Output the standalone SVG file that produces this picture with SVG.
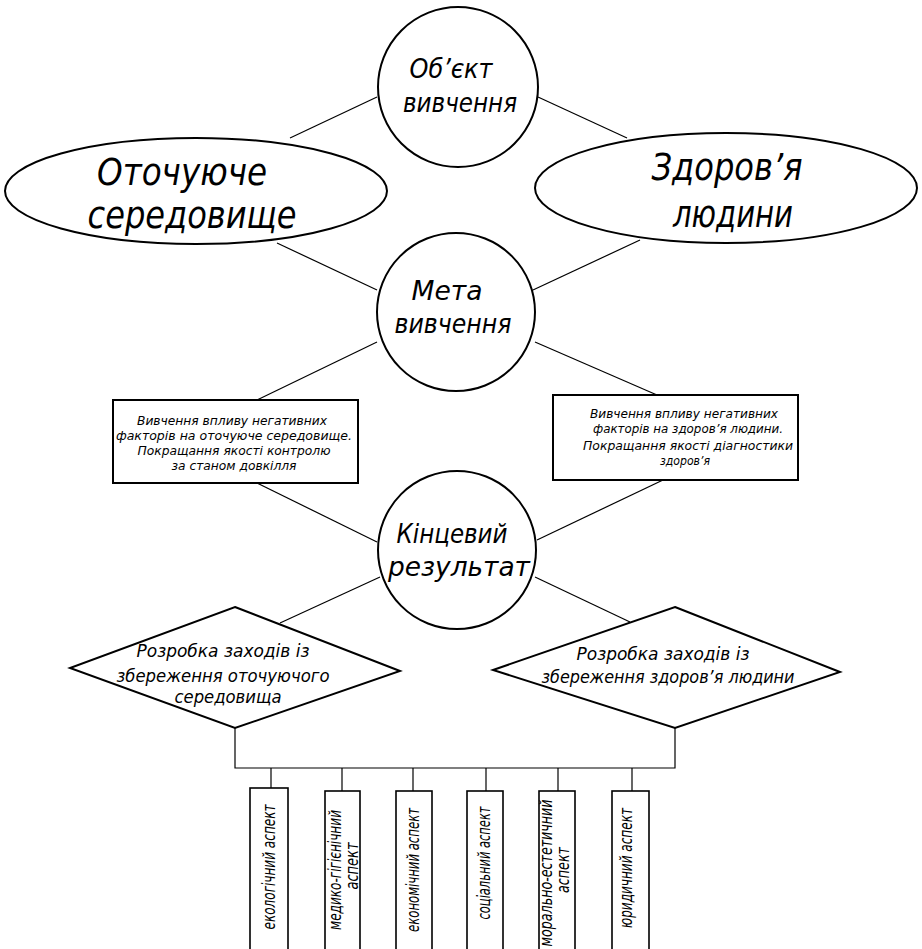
<svg xmlns="http://www.w3.org/2000/svg" width="922" height="949" viewBox="0 0 922 949">
<style>
.sh{fill:#fff;stroke:#000;stroke-width:2}
.bx{fill:#fff;stroke:#000;stroke-width:1.6}
.cn{fill:none;stroke:#000;stroke-width:1.2}
text{font-family:"Liberation Sans Narrow","DejaVu Sans Condensed","Liberation Sans",sans-serif;font-style:italic;fill:#000;text-anchor:middle}
.t1{font-size:27px}
.t2{font-size:38px}
.t3{font-size:13px}
.t4{font-size:27px}
.t5{font-size:18px}
.t6{font-size:17px}
</style>
<rect width="922" height="949" fill="#fff"/>
<g id="connectors">
<line class="cn" x1="377" y1="97" x2="290" y2="138"/>
<line class="cn" x1="538" y1="97" x2="627" y2="138"/>
<line class="cn" x1="277" y1="243" x2="377" y2="290"/>
<line class="cn" x1="533" y1="290" x2="640" y2="240"/>
<line class="cn" x1="377" y1="342" x2="257" y2="400"/>
<line class="cn" x1="535" y1="342" x2="657" y2="395"/>
<line class="cn" x1="257" y1="483" x2="377" y2="542"/>
<line class="cn" x1="663" y1="480" x2="537" y2="540"/>
<line class="cn" x1="380" y1="577" x2="280" y2="623"/>
<line class="cn" x1="535" y1="577" x2="630" y2="622"/>
<polyline class="cn" points="235,728 235,768 675,768 675,728"/>
<line class="cn" x1="271" y1="768" x2="271" y2="788"/>
<line class="cn" x1="342" y1="768" x2="342" y2="791"/>
<line class="cn" x1="413" y1="768" x2="413" y2="791"/>
<line class="cn" x1="486" y1="768" x2="486" y2="791"/>
<line class="cn" x1="558" y1="768" x2="558" y2="791"/>
<line class="cn" x1="632" y1="768" x2="632" y2="791"/>
</g>
<g id="n-object">
<circle class="sh" cx="458" cy="87" r="80"/>
<text class="t1" x="451" y="78" textLength="83" lengthAdjust="spacingAndGlyphs">Об’єкт</text>
<text class="t1" x="460" y="112" textLength="114" lengthAdjust="spacingAndGlyphs">вивчення</text>
</g>
<g id="n-environment">
<ellipse class="sh" cx="196" cy="191" rx="191" ry="53"/>
<text class="t2" x="182" y="185" textLength="170" lengthAdjust="spacingAndGlyphs">Оточуюче</text>
<text class="t2" x="192" y="228" textLength="209" lengthAdjust="spacingAndGlyphs">середовище</text>
</g>
<g id="n-health">
<ellipse class="sh" cx="726" cy="188" rx="191" ry="55"/>
<text class="t2" x="727" y="180" textLength="151" lengthAdjust="spacingAndGlyphs">Здоров’я</text>
<text class="t2" x="733" y="227" textLength="120" lengthAdjust="spacingAndGlyphs">людини</text>
</g>
<g id="n-goal">
<circle class="sh" cx="456" cy="312" r="79"/>
<text class="t1" x="447" y="300" font-size="29" textLength="71" lengthAdjust="spacingAndGlyphs">Мета</text>
<text class="t1" x="453" y="333" font-size="29" textLength="117" lengthAdjust="spacingAndGlyphs">вивчення</text>
</g>
<g id="n-rect-left">
<rect class="sh" x="113" y="400" width="245" height="83"/>
<text class="t3" x="232" y="425" textLength="190" lengthAdjust="spacingAndGlyphs">Вивчення впливу негативних</text>
<text class="t3" x="234" y="440" textLength="236" lengthAdjust="spacingAndGlyphs">факторів на оточуюче середовище.</text>
<text class="t3" x="234" y="455" textLength="193" lengthAdjust="spacingAndGlyphs">Покращання якості контролю</text>
<text class="t3" x="234" y="470" textLength="125" lengthAdjust="spacingAndGlyphs">за станом довкілля</text>
</g>
<g id="n-rect-right">
<rect class="sh" x="553" y="395" width="245" height="85"/>
<text class="t3" x="684" y="418" textLength="188" lengthAdjust="spacingAndGlyphs">Вивчення впливу негативних</text>
<text class="t3" x="688" y="433" textLength="190" lengthAdjust="spacingAndGlyphs">факторів на здоров’я людини.</text>
<text class="t3" x="688" y="450" textLength="210" lengthAdjust="spacingAndGlyphs">Покращання якості діагностики</text>
<text class="t3" x="685" y="465" textLength="50" lengthAdjust="spacingAndGlyphs">здоров’я</text>
</g>
<g id="n-result">
<circle class="sh" cx="457" cy="550" r="79"/>
<text class="t4" x="452" y="543" textLength="111" lengthAdjust="spacingAndGlyphs">Кінцевий</text>
<text class="t4" x="459" y="576" textLength="142" lengthAdjust="spacingAndGlyphs">результат</text>
</g>
<g id="n-diamond-left">
<polygon class="sh" points="235,607 400,671 235,728 70,668"/>
<text class="t5" x="223" y="657" textLength="173" lengthAdjust="spacingAndGlyphs">Розробка заходів із</text>
<text class="t5" x="223" y="682" textLength="213" lengthAdjust="spacingAndGlyphs">збереження оточуючого</text>
<text class="t5" x="228" y="703" textLength="107" lengthAdjust="spacingAndGlyphs">середовища</text>
</g>
<g id="n-diamond-right">
<polygon class="sh" points="675,607 840,672 675,728 493,670"/>
<text class="t5" x="663" y="660" textLength="173" lengthAdjust="spacingAndGlyphs">Розробка заходів із</text>
<text class="t5" x="668" y="683" textLength="253" lengthAdjust="spacingAndGlyphs">збереження здоров’я людини</text>
</g>
<g id="n-aspect-1">
<rect class="bx" x="250" y="788" width="38" height="170"/>
<text class="t6" x="275" y="867" transform="rotate(-90 275 867)" textLength="125" lengthAdjust="spacingAndGlyphs">екологічний аспект</text>
</g>
<g id="n-aspect-2">
<rect class="bx" x="325" y="791" width="35" height="170"/>
<text class="t6" x="341" y="870" transform="rotate(-90 341 870)" textLength="120" lengthAdjust="spacingAndGlyphs">медико-гігієнічний</text>
<text class="t6" x="358" y="866" transform="rotate(-90 358 866)" textLength="47" lengthAdjust="spacingAndGlyphs">аспект</text>
</g>
<g id="n-aspect-3">
<rect class="bx" x="396" y="791" width="36" height="170"/>
<text class="t6" x="419" y="870" transform="rotate(-90 419 870)" textLength="124" lengthAdjust="spacingAndGlyphs">економічний аспект</text>
</g>
<g id="n-aspect-4">
<rect class="bx" x="467" y="791" width="36" height="170"/>
<text class="t6" x="490" y="863" transform="rotate(-90 490 863)" textLength="113" lengthAdjust="spacingAndGlyphs">соціальний аспект</text>
</g>
<g id="n-aspect-5">
<rect class="bx" x="539" y="791" width="36" height="170"/>
<text class="t6" x="552" y="873" transform="rotate(-90 552 873)" textLength="147" lengthAdjust="spacingAndGlyphs">морально-естетичний</text>
<text class="t6" x="569" y="870" transform="rotate(-90 569 870)" textLength="46" lengthAdjust="spacingAndGlyphs">аспект</text>
</g>
<g id="n-aspect-6">
<rect class="bx" x="612" y="791" width="37" height="170"/>
<text class="t6" x="632" y="868" transform="rotate(-90 632 868)" textLength="120" lengthAdjust="spacingAndGlyphs">юридичний аспект</text>
</g>
</svg>
